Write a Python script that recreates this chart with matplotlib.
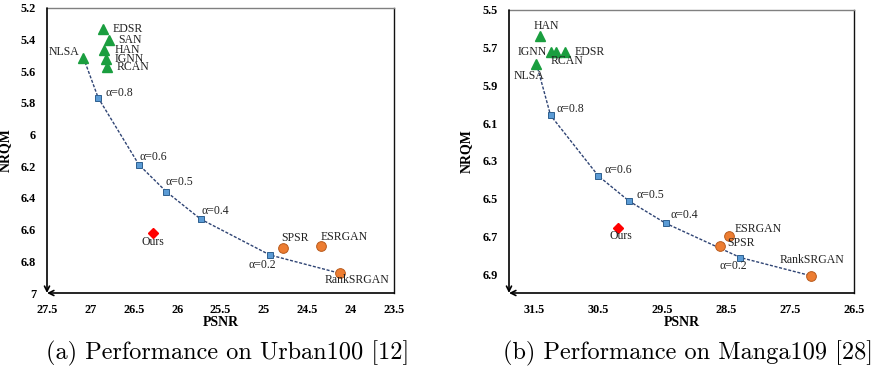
import matplotlib
matplotlib.use("Agg")
import matplotlib.pyplot as plt

# ---------------- data ----------------
# Urban100
u_sota_names = ["EDSR", "SAN", "HAN", "IGNN", "RCAN", "NLSA"]
u_sota_psnr = [26.85, 26.79, 26.84, 26.82, 26.81, 27.08]
u_sota_nrqm = [5.333, 5.40, 5.465, 5.52, 5.57, 5.514]
u_alpha_names = ["α=0.8", "α=0.6", "α=0.5", "α=0.4", "α=0.2"]
u_alpha_psnr = [26.91, 26.44, 26.125, 25.73, 24.93]
u_alpha_nrqm = [5.767, 6.19, 6.36, 6.533, 6.76]
u_gan_names = ["SPSR", "ESRGAN", "RankSRGAN"]
u_gan_psnr = [24.78, 24.34, 24.12]
u_gan_nrqm = [6.718, 6.70, 6.876]
u_ours_psnr = [26.28]
u_ours_nrqm = [6.623]

# Manga109
m_sota_names = ["HAN", "IGNN", "RCAN", "EDSR", "NLSA"]
m_sota_psnr = [31.41, 31.25, 31.17, 31.02, 31.47]
m_sota_nrqm = [5.637, 5.72, 5.72, 5.72, 5.785]
m_alpha_names = ["α=0.8", "α=0.6", "α=0.5", "α=0.4", "α=0.2"]
m_alpha_psnr = [31.25, 30.50, 30.02, 29.45, 28.28]
m_alpha_nrqm = [6.058, 6.38, 6.513, 6.63, 6.812]
m_gan_names = ["ESRGAN", "SPSR", "RankSRGAN"]
m_gan_psnr = [28.46, 28.59, 27.17]
m_gan_nrqm = [6.697, 6.75, 6.909]
m_ours_psnr = [30.19]
m_ours_nrqm = [6.653]

u_xticks = [27.5, 27, 26.5, 26, 25.5, 25, 24.5, 24, 23.5]
u_yticks = [5.2, 5.4, 5.6, 5.8, 6, 6.2, 6.4, 6.6, 6.8, 7]
m_xticks = [31.5, 30.5, 29.5, 28.5, 27.5, 26.5]
m_yticks = [5.5, 5.7, 5.9, 6.1, 6.3, 6.5, 6.7, 6.9]

# ---------------- style ----------------
SERIF = "Liberation Serif"
GREEN = "#1a9e3f"
BLUE_F = "#5b9bd5"
BLUE_E = "#2e5f8f"
ORANGE_F = "#ed7d31"
ORANGE_E = "#b85a1c"
RED = "#ff0000"
LINE = "#2f4474"

fig = plt.figure(figsize=(8.71, 3.76), dpi=100)
W, H = 871, 376


def add_ax(x0, y0, x1, y1):
    return fig.add_axes([x0 / W, 1 - y1 / H, (x1 - x0) / W, (y1 - y0) / H])


def px(dx, dy):
    # convert pixel offset (right, down) into points (right, up)
    return (dx * 0.72, -dy * 0.72)


def draw(ax, sota, alpha, gan, ours, xlim, ylim, xticks, yticks, offsets,
         ylabel_x):
    s_names, s_x, s_y = sota
    a_names, a_x, a_y = alpha
    g_names, g_x, g_y = gan
    o_x, o_y = ours

    # dashed trade-off curve: NLSA -> alphas -> RankSRGAN
    nl = s_names.index("NLSA")
    rk = g_names.index("RankSRGAN")
    cx = [s_x[nl]] + list(a_x) + [g_x[rk]]
    cy = [s_y[nl]] + list(a_y) + [g_y[rk]]
    ax.plot(cx, cy, linestyle=(0, (2.2, 1.2)), color=LINE, lw=1.0, zorder=2)

    ax.plot(s_x, s_y, linestyle="none", marker="^", ms=7.5, color=GREEN,
            mec=GREEN, zorder=3)
    ax.plot(a_x, a_y, linestyle="none", marker="s", ms=5, mfc=BLUE_F,
            mec=BLUE_E, mew=0.7, zorder=3)
    ax.plot(g_x, g_y, linestyle="none", marker="o", ms=7, mfc=ORANGE_F,
            mec=ORANGE_E, mew=0.7, zorder=3)
    ax.plot(o_x, o_y, linestyle="none", marker="D", ms=5, color=RED, zorder=3)

    def lab(name, x, y):
        dx, dy, ha = offsets[name]
        ax.annotate(name, (x, y), xytext=px(dx, dy),
                    textcoords="offset points", ha=ha, va="center",
                    fontsize=8.5, family=SERIF, color="#222222", zorder=4)

    for n, x, y in zip(s_names, s_x, s_y):
        lab(n, x, y)
    for n, x, y in zip(a_names, a_x, a_y):
        lab(n, x, y)
    for n, x, y in zip(g_names, g_x, g_y):
        lab(n, x, y)
    lab("Ours", o_x[0], o_y[0])

    ax.set_xlim(*xlim)
    ax.set_ylim(*ylim)
    ax.set_xticks(xticks)
    ax.set_xticklabels([("%g" % v) for v in xticks])
    ax.set_yticks(yticks)
    ax.set_yticklabels([("%g" % v) for v in yticks])
    ax.tick_params(length=0, labelsize=8.8)
    ax.tick_params(axis="y", pad=8)
    ax.tick_params(axis="x", pad=8)
    for t in ax.get_xticklabels() + ax.get_yticklabels():
        t.set_fontfamily(SERIF)
        t.set_fontweight("bold")
    ax.set_xlabel("PSNR", family=SERIF, fontweight="bold", fontsize=10,
                  labelpad=0)
    ax.set_ylabel("NRQM", family=SERIF, fontweight="bold", fontsize=10)
    ax.yaxis.set_label_coords(ylabel_x, 0.5)

    ax.spines["top"].set_color("#808080")
    ax.spines["right"].set_color("#111111")
    for s in ax.spines.values():
        s.set_linewidth(1.0)
    ax.spines["left"].set_visible(False)
    ax.spines["bottom"].set_visible(False)
    # axis lines with arrow heads at the origin corner
    ax.annotate("", xy=(0, 0), xytext=(0, 1), xycoords="axes fraction",
                arrowprops=dict(arrowstyle="->", color="black", lw=1.2,
                                shrinkA=0, shrinkB=0, mutation_scale=9))
    ax.annotate("", xy=(0, 0), xytext=(1, 0), xycoords="axes fraction",
                arrowprops=dict(arrowstyle="->", color="black", lw=1.2,
                                shrinkA=0, shrinkB=0, mutation_scale=9))


u_offsets = {
    "EDSR": (9, 0, "left"), "SAN": (10, 0, "left"), "HAN": (10, 0, "left"),
    "IGNN": (9, 0, "left"), "RCAN": (10, 0, "left"),
    "NLSA": (-4, -6, "right"),
    "α=0.8": (7, -5, "left"), "α=0.6": (1, -8, "left"),
    "α=0.5": (-1, -10, "left"), "α=0.4": (1, -8, "left"),
    "α=0.2": (-8, 10, "center"),
    "Ours": (0, 9, "center"), "SPSR": (12, -10, "center"),
    "ESRGAN": (-1, -9, "left"), "RankSRGAN": (17, 7, "center"),
}
m_offsets = {
    "HAN": (6, -10, "center"), "IGNN": (-4, 0, "right"),
    "RCAN": (11, 9, "center"), "EDSR": (9, 0, "left"),
    "NLSA": (-7, 12, "center"),
    "α=0.8": (6, -6, "left"), "α=0.6": (6, -6, "left"),
    "α=0.5": (7, -6, "left"), "α=0.4": (5, -8, "left"),
    "α=0.2": (-7, 8, "center"),
    "Ours": (3, 8, "center"), "ESRGAN": (6, -7, "left"),
    "SPSR": (7, -3, "left"), "RankSRGAN": (1, -16, "center"),
}

ax1 = add_ax(47, 8, 394, 293)
draw(ax1,
     (u_sota_names, u_sota_psnr, u_sota_nrqm),
     (u_alpha_names, u_alpha_psnr, u_alpha_nrqm),
     (u_gan_names, u_gan_psnr, u_gan_nrqm),
     (u_ours_psnr, u_ours_nrqm),
     (27.5, 23.5), (7.0, 5.2), u_xticks, u_yticks, u_offsets,
     -(47 - 12) / (394 - 47))

ax2 = add_ax(509, 10, 854, 293)
draw(ax2,
     (m_sota_names, m_sota_psnr, m_sota_nrqm),
     (m_alpha_names, m_alpha_psnr, m_alpha_nrqm),
     (m_gan_names, m_gan_psnr, m_gan_nrqm),
     (m_ours_psnr, m_ours_nrqm),
     (31.9, 26.5), (7.0, 5.5), m_xticks, m_yticks, m_offsets,
     -(509 - 473) / (854 - 509))

fig.text(46 / W, 1 - 353 / H, "(a) Performance on Urban100 [12]",
         family="cmr10", fontsize=17.5, ha="left", va="center")
fig.text(503 / W, 1 - 353 / H, "(b) Performance on Manga109 [28]",
         family="cmr10", fontsize=17.5, ha="left", va="center")

fig.savefig("out.png", dpi=100)
